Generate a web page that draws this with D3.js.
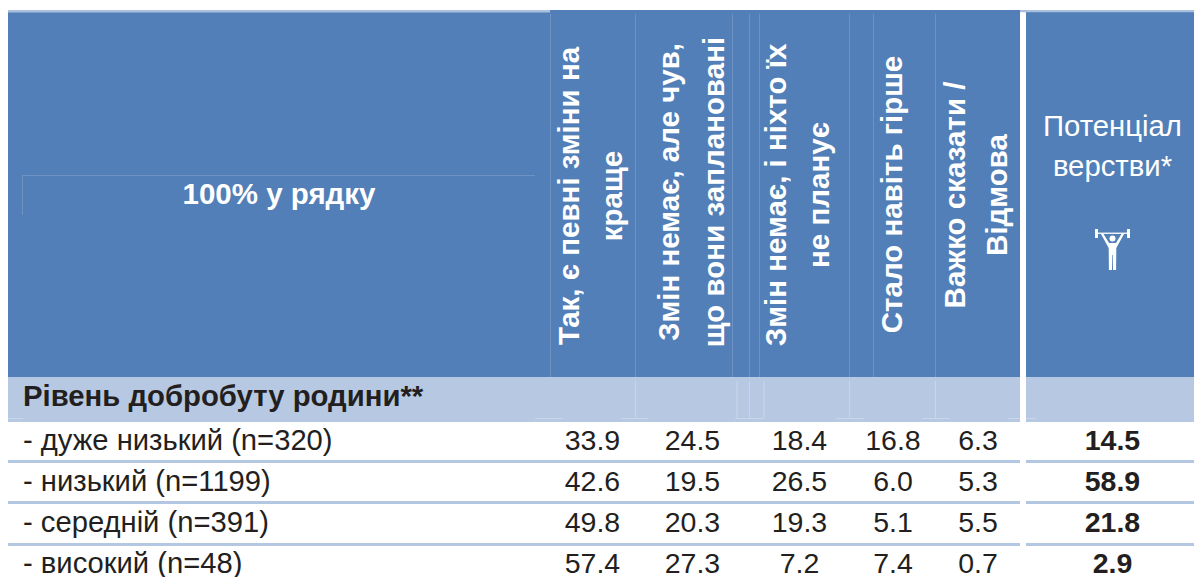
<!DOCTYPE html>
<html><head><meta charset="utf-8">
<script src="https://cdn.jsdelivr.net/npm/d3@7"></script>
<style>html,body{margin:0;padding:0;background:#fff}svg{display:block}text{font-family:"Liberation Sans",Arial,sans-serif}</style>
</head><body><svg id="c" width="1194" height="577"></svg>
<script>
const cornerLabel = "100% у рядку";
const groupLabel = "Рівень добробуту родини**";
const columns = ["yes","planned","none","worse","dk"];
const columnHeaders = [
  ["Так, є певні зміни на","краще"],
  ["Змін немає, але чув,","що вони заплановані"],
  ["Змін немає, і ніхто їх","не планує"],
  ["Стало навіть гірше"],
  ["Важко сказати /","Відмова"]
];
const potentialHeader = ["Потенціал","верстви*"];
const rowLabels = ["- дуже низький (n=320)","- низький (n=1199)","- середній (n=391)","- високий (n=48)"];
const yes = ["33.9","42.6","49.8","57.4"];
const planned = ["24.5","19.5","20.3","27.3"];
const none = ["18.4","26.5","19.3","7.2"];
const worse = ["16.8","6.0","5.1","7.4"];
const dk = ["6.3","5.3","5.5","0.7"];
const potential = ["14.5","58.9","21.8","2.9"];
const series = [yes,planned,none,worse,dk];

const BLUE="#527fb7", LIGHT="#b7c9e2", RULE="#b3c7e2", INK="#231f20", GRID="#6c93c4", GRIDL="#c8d6e9";
const svg=d3.select("#c");
const x=d3.scaleOrdinal().domain(columns).range([592.5,692.5,799.5,893,978]);
const potX=1112.5;
const y=d3.scalePoint().domain(rowLabels).range([440,563]);
const rect=(a,b,w,h,f)=>svg.append("rect").attr("x",a).attr("y",b).attr("width",w).attr("height",h).attr("fill",f);
const vline=(a,b1,b2,c)=>svg.append("line").attr("x1",a).attr("x2",a).attr("y1",b1).attr("y2",b2).attr("stroke",c).attr("stroke-width",1);
const hline=(a1,a2,b,c)=>svg.append("line").attr("x1",a1).attr("x2",a2).attr("y1",b).attr("y2",b).attr("stroke",c).attr("stroke-width",1);

// header blocks
rect(8,10,1012,367,BLUE); rect(1026,10,168,367,BLUE);
rect(8,10,542,2.5,"#a9c0de"); rect(1020,10,174,2.5,"#a9c0de"); rect(1026,12.5,168,365,BLUE);
rect(1020,12.5,6,365,"#fff");
// group band
rect(8,377,1012,45,LIGHT); rect(1026,377,168,45,LIGHT);
// faint grid left over in the header
[550.5,635.5,732.5,749.5,759.5,849.5,873.5,935.5].forEach(v=>vline(v,14,377,GRID));
vline(22.5,175,215,GRID); hline(22.5,535,175.5,GRID);
[635.5,737,749.5,764,849.5,935.5].forEach(v=>vline(v,381,418,GRIDL));
[[8,23],[535,563],[621,648],[735,764],[836,864],[922,950],[1008,1020],[1026,1036]].forEach(d=>hline(d[0],d[1],418.5,GRIDL));
// row rules
[461.5,502.5,544.5].forEach(v=>{rect(8,v-1.5,1012,3,RULE);rect(1026,v-1.5,168,3,RULE);});

// header text
svg.append("text").attr("x",279).attr("y",204).attr("text-anchor","middle").attr("font-size",29.5).attr("font-weight",700).attr("fill","#fff").text(cornerLabel);
const hdrX=[590.5,691.5,798,892,976.5];
const lineGap=[43,45,42.5,0,41.5];
const centerY={yes:196,planned:192,none:195,worse:194.5,dk:195};
const hdr=svg.selectAll("g.h").data(columns).join("g").attr("class","h")
  .attr("transform",(d,i)=>`translate(${hdrX[i]},0)`);
hdr.each(function(d,i){
  const lines=columnHeaders[i], n=lines.length;
  d3.select(this).selectAll("text").data(lines).join("text")
    .attr("transform",(t,j)=>`translate(${(j-(n-1)/2)*lineGap[i]+9.5},${centerY[d]}) rotate(-90)`)
    .attr("text-anchor","middle").attr("font-size",29.5).attr("font-weight",700).attr("fill","#fff").text(t=>t);
});
svg.selectAll("text.p").data(potentialHeader).join("text").attr("class","p")
  .attr("x",potX).attr("y",(d,i)=>136+i*40).attr("text-anchor","middle").attr("font-size",29.3).attr("fill","#fff").text(d=>d);

// lifter icon
const ic=svg.append("g").attr("transform",`translate(${potX},0)`).attr("fill","#fff").attr("stroke","none");
ic.append("rect").attr("x",-16).attr("y",232.6).attr("width",32).attr("height",1.3);
ic.append("rect").attr("x",-17.5).attr("y",229).attr("width",3).attr("height",9);
ic.append("rect").attr("x",14.5).attr("y",229).attr("width",3).attr("height",9);
ic.append("circle").attr("cx",0).attr("cy",238.5).attr("r",3);
ic.append("path").attr("d","M-11.5 234 L-9 234 L-3.4 243 L3.4 243 L9 234 L11.5 234 L3.8 248 L3.6 270 L0.5 270 L0.3 255 L-0.3 255 L-0.5 270 L-3.6 270 L-3.8 248 Z");

// group label
svg.append("text").attr("x",23).attr("y",406).attr("font-size",29.3).attr("font-weight",700).attr("fill",INK).text(groupLabel);
// row labels
svg.selectAll("text.r").data(rowLabels).join("text").attr("class","r")
  .attr("x",23).attr("y",d=>y(d)+9.5).attr("font-size",29.2).attr("fill",INK).text(d=>d);
// values
columns.forEach((c,ci)=>{
  svg.selectAll("text.v"+ci).data(series[ci]).join("text").attr("class","v"+ci)
    .attr("x",x(c)).attr("y",(d,i)=>y(rowLabels[i])+10).attr("text-anchor","middle").attr("font-size",28.5).attr("fill",INK).text(d=>d);
});
svg.selectAll("text.pv").data(potential).join("text").attr("class","pv")
  .attr("x",potX).attr("y",(d,i)=>y(rowLabels[i])+10).attr("text-anchor","middle").attr("font-size",28.5).attr("font-weight",700).attr("fill",INK).text(d=>d);
</script></body></html>
